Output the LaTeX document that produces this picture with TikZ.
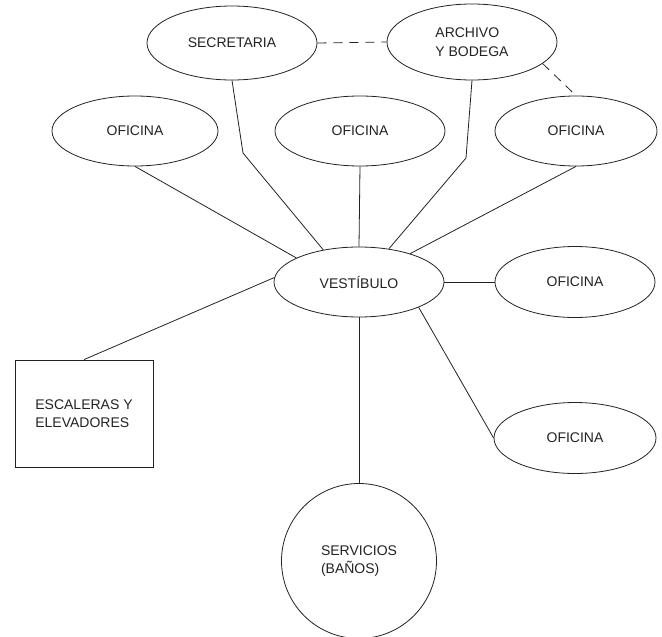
\documentclass[tikz,border=0pt]{standalone}
\usepackage{fontspec}
\setmainfont{Liberation Sans}
\usetikzlibrary{shapes.geometric}
\definecolor{ink}{HTML}{222222}
\begin{document}
\begin{tikzpicture}[x=1pt,y=-1pt,
  every node/.style={font=\fontsize{14}{18.5}\selectfont, text=ink, inner sep=0pt},
  room/.style={ellipse, draw=ink, line width=0.8pt},
  conn/.style={draw=ink, line width=0.8pt},
  dconn/.style={draw=ink, line width=0.8pt, dash pattern=on 9pt off 7pt}]
\useasboundingbox (0,0) rectangle (662,637);
\node[room, minimum width=170, minimum height=74] (sec) at (232,43) {SECRETARIA};
\node[room, minimum width=170, minimum height=76, align=left] (arch) at (472,42) {ARCHIVO\\Y BODEGA};
\node[room, minimum width=166, minimum height=70] (of1) at (135,131) {OFICINA};
\node[room, minimum width=170, minimum height=70] (of2) at (360,131) {OFICINA};
\node[room, minimum width=162, minimum height=70] (of3) at (576,131) {OFICINA};
\node[room, minimum width=170, minimum height=70] (vest) at (359,282) {VESTÍBULO};
\node[room, minimum width=160, minimum height=71] (of4) at (575,282) {OFICINA};
\node[room, minimum width=162, minimum height=71] (of5) at (575,438) {OFICINA};
\node[rectangle, draw=ink, line width=0.8pt, minimum width=138, minimum height=107, align=left] (esc) at (84,413.5) {ESCALERAS Y\\ELEVADORES};
\node[circle, draw=ink, line width=0.8pt, minimum size=155, align=left] (serv) at (359,561) {SERVICIOS\\(BAÑOS)};
\coordinate (b1) at (243,153);
\coordinate (b2) at (466,158);
\draw[conn] (sec.south) -- (b1) -- (vest.138);
\draw[conn] (arch.south) -- (b2) -- (vest.48);
\draw[conn] (of1.south) -- (vest.159);
\draw[conn] (of2.south) -- (vest.north);
\draw[conn] (of3.south) -- (vest.29);
\draw[conn] (vest.east) -- (of4.west);
\draw[conn] (vest.177) -- (esc.north);
\draw[conn] (vest.-23) -- (of5.west);
\draw[conn] (vest.south) -- (serv.north);
\draw[dconn] (sec.east) -- (arch.west);
\draw[dconn] (arch.-17) -- (of3.north);
\end{tikzpicture}
\end{document}
